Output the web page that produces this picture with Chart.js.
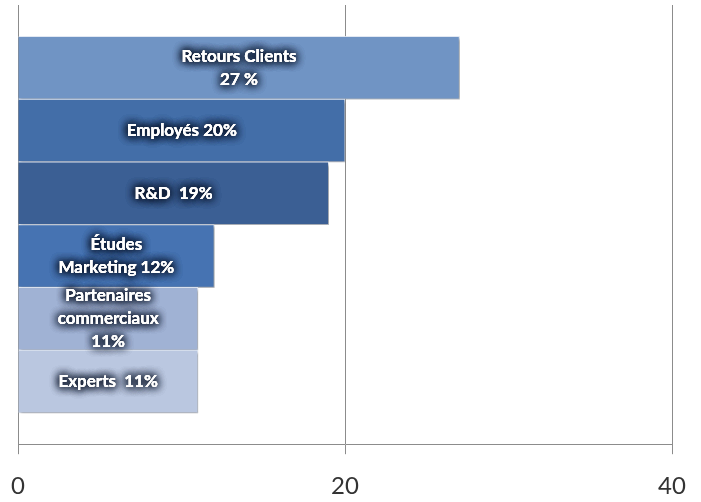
<!DOCTYPE html>
<html>
<head>
<meta charset="utf-8">
<script src="https://cdn.jsdelivr.net/npm/chart.js@4/dist/chart.umd.min.js"></script>
<style>
  html, body { margin: 0; padding: 0; background: #fff; }
  #wrap { width: 701px; height: 502px; }
</style>
</head>
<body>
<div id="wrap"><canvas id="myChart"></canvas></div>
<script>
// sources, top to bottom
const categories = ["Retours Clients", "Employés", "R&D", "Études Marketing", "Partenaires commerciaux", "Experts"];
const values = [27, 20, 19, 12, 11, 11];
// text written inside each bar
const barLabels = [
  ["Retours Clients", "27 %"],
  ["Employés 20%"],
  ["R&D  19%"],
  ["Études", "Marketing 12%"],
  ["Partenaires", "commerciaux", "11%"],
  ["Experts  11%"],
];
const barColors = ["#7094c4", "#436ea8", "#3b5f94", "#4673b2", "#a0b2d4", "#bac7e0"];
const xTicks = [0, 20, 40];

// soft drop shadow under the bars
const barShadow = {
  id: "barShadow",
  beforeDatasetDraw(chart) {
    const c = chart.ctx;
    c.save();
    c.shadowColor = "rgba(0,0,0,0.35)";
    c.shadowBlur = 3;
    c.shadowOffsetX = 2;
    c.shadowOffsetY = 2;
  },
  afterDatasetDraw(chart) {
    chart.ctx.restore();
  },
};

// white glowing labels centred on each bar
const barText = {
  id: "barText",
  afterDatasetsDraw(chart) {
    const c = chart.ctx;
    const meta = chart.getDatasetMeta(0);
    c.save();
    c.font = "bold 17px Lato";
    c.textAlign = "center";
    c.textBaseline = "middle";
    meta.data.forEach((bar, i) => {
      const lines = barLabels[i];
      const cx = (bar.x + bar.base) / 2;
      const lh = 23;
      const y0 = bar.y - ((lines.length - 1) * lh) / 2;
      lines.forEach((line, j) => {
        const y = y0 + j * lh;
        c.shadowColor = "#0a1428";
        c.shadowBlur = 8;
        c.fillStyle = "#ffffff";
        for (let k = 0; k < 4; k++) c.fillText(line, cx, y);
        c.shadowBlur = 0;
        c.fillText(line, cx, y);
      });
    });
    c.restore();
  },
};

const ctx = document.getElementById("myChart");

if (ctx) {
  const myChart = new Chart(ctx, {
    type: "bar",
    data: {
      labels: categories,
      datasets: [
        {
          label: "Sources",
          data: values.map((v, i) => ({ x: v, y: i })),
          backgroundColor: barColors,
          borderColor: "rgba(225,233,245,0.9)",
          borderWidth: 1,
          barPercentage: 1,
          categoryPercentage: 1,
        },
      ],
    },
    options: {
      indexAxis: "y",
      responsive: true,
      maintainAspectRatio: false,
      animation: false,
      layout: {
        padding: { left: 18, right: 29, top: 5, bottom: -17 },
      },
      plugins: {
        legend: { display: false },
        tooltip: { enabled: false },
      },
      scales: {
        x: {
          type: "linear",
          min: 0,
          max: 40,
          afterBuildTicks: (scale) => {
            scale.ticks = xTicks.map((v) => ({ value: v }));
          },
          // let layout.padding alone place the plot edges
          afterFit: (scale) => {
            scale.paddingLeft = 0;
            scale.paddingRight = 0;
          },
          grid: {
            color: "#8c8c8c",
            lineWidth: 1,
            drawTicks: true,
            tickLength: 10,
          },
          border: { color: "#8c8c8c", width: 1 },
          ticks: {
            color: "#333",
            font: { family: "Lato", size: 24 },
            padding: 18,
          },
        },
        y: {
          type: "linear",
          min: -1,
          max: 6,
          reverse: true,
          offset: false,
          display: false,
          ticks: { stepSize: 1 },
        },
      },
    },
    plugins: [barShadow, barText],
  });
}
</script>
</body>
</html>
